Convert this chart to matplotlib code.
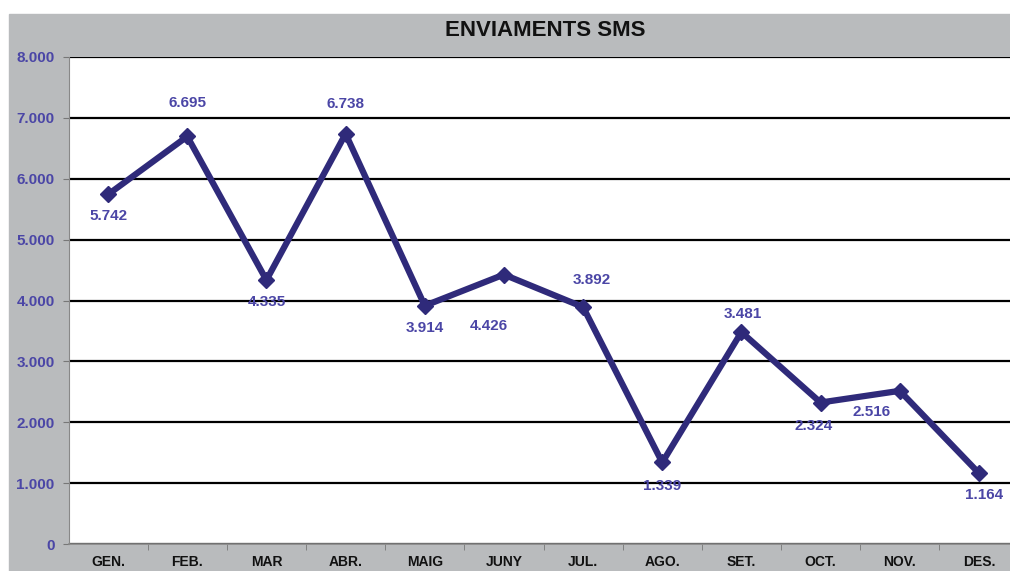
import matplotlib.pyplot as plt
from matplotlib.patches import Rectangle
from matplotlib.ticker import FuncFormatter

# Monthly SMS sends
mesos = ['GEN.', 'FEB.', 'MAR', 'ABR.', 'MAIG', 'JUNY', 'JUL.', 'AGO.',
         'SET.', 'OCT.', 'NOV.', 'DES.']
enviaments = [5742, 6695, 4335, 6738, 3914, 4426, 3892, 1339, 3481, 2324, 2516, 1164]
# label offset (px) from each point: x, y (positive y = up)
desplac = [(0, -22), (0, 33), (0, -22), (0, 30), (0, -22), (-15, -51),
           (9, 27), (0, -24), (1, 18), (-7, -23), (-28, -21), (5, -22)]

gris = '#b9bbbd'
linia = '#2f2a7a'
blau = '#4b46a6'

fig = plt.figure(figsize=(10.1, 5.71), dpi=100)
fig.patches.append(Rectangle((9 / 1010, 0), 1, 1 - 14 / 571,
                             transform=fig.transFigure, color=gris, zorder=-10))

ax = fig.add_axes([68.5 / 1010, 27 / 571, 950 / 1010, 487 / 571])
ax.set_facecolor('white')

x = range(len(mesos))
ax.plot(x, enviaments, color=linia, lw=4.5, marker='D', ms=8,
        mec=linia, mfc=linia, zorder=3)

px = 72 / fig.dpi
for i, v in enumerate(enviaments):
    dx, dy = desplac[i]
    txt = f'{v:,}'.replace(',', '.')
    ax.annotate(txt, (i, v), xytext=(dx * px, dy * px), textcoords='offset points',
                ha='center', va='center', fontsize=11, fontweight='bold',
                color=blau, family='Liberation Sans', zorder=4)

ax.set_xlim(-0.5, 11.5)
ax.set_ylim(0, 8000)
ax.set_yticks(range(0, 8001, 1000))
ax.yaxis.set_major_formatter(FuncFormatter(lambda v, p: f'{int(v):,}'.replace(',', '.')))
ax.grid(axis='y', color='black', lw=1.6, zorder=1)
ax.set_axisbelow(True)

ax.set_xticks(x)
ax.set_xticklabels(mesos)
ax.set_xticks([i + 0.5 for i in range(11)], minor=True)
ax.tick_params(axis='x', which='major', length=0, pad=8)
ax.tick_params(axis='x', which='minor', length=4, color='#777777', direction='out')
ax.tick_params(axis='y', length=4, color='#777777', pad=6)
for lab in ax.get_xticklabels():
    lab.set_fontweight('bold')
    lab.set_fontsize(10)
    lab.set_family('Liberation Sans')
    lab.set_color('#111111')
for lab in ax.get_yticklabels():
    lab.set_fontweight('bold')
    lab.set_fontsize(11)
    lab.set_family('Liberation Sans')
    lab.set_color(blau)

for s in ['top', 'right']:
    ax.spines[s].set_visible(False)
ax.spines['left'].set_color('#888888')
ax.spines['bottom'].set_color('#888888')
ax.spines['bottom'].set_linewidth(1.2)

fig.text(545 / 1010, 1 - 31 / 571, 'ENVIAMENTS SMS', ha='center', va='center',
         fontsize=16, fontweight='bold', family='Liberation Sans', color='#111111')

fig.savefig('out.png', dpi=100)
